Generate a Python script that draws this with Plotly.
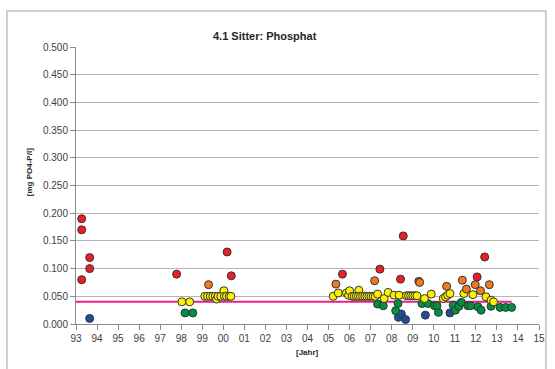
import plotly.graph_objects as go

# measurement points, x in decimal years, y in mg PO4-P/l
red_x = [1993.27, 1993.27, 1993.65, 1993.65, 1993.27, 1997.78, 2000.18, 2000.38,
         2005.66, 2007.44, 2008.42, 2008.55, 2012.06, 2012.42]
red_y = [0.190, 0.170, 0.120, 0.100, 0.080, 0.090, 0.130, 0.087,
         0.090, 0.099, 0.081, 0.159, 0.085, 0.121]

orange_x = [1999.30, 2005.35, 2007.19, 2009.29, 2009.33, 2010.61, 2011.36, 2011.55,
            2011.97, 2012.22, 2012.64]
orange_y = [0.071, 0.072, 0.078, 0.077, 0.075, 0.068, 0.079, 0.063,
            0.071, 0.060, 0.071]

yellow_x = [1998.03, 1998.40,
            1999.12, 1999.25, 1999.38, 1999.50, 1999.62, 1999.68, 1999.75, 1999.88,
            2000.03, 2000.05, 2000.15, 2000.28, 2000.36,
            2005.22, 2005.46, 2005.85, 2005.95, 2006.00, 2006.44,
            2006.12, 2006.22, 2006.32, 2006.42, 2006.52, 2006.62, 2006.72, 2006.82,
            2006.92, 2007.02, 2007.12, 2007.22,
            2007.33, 2007.64, 2007.83, 2008.11, 2008.35,
            2008.70, 2008.80, 2008.90, 2009.00, 2009.10, 2009.20,
            2009.56, 2009.88, 2010.45, 2010.56, 2010.66, 2010.77,
            2011.43, 2011.86, 2012.48, 2012.72, 2012.84]
yellow_y = [0.040, 0.040,
            0.050, 0.050, 0.050, 0.050, 0.050, 0.045, 0.050, 0.050,
            0.060, 0.050, 0.050, 0.050, 0.050,
            0.050, 0.056, 0.056, 0.052, 0.060, 0.061,
            0.050, 0.050, 0.050, 0.050, 0.050, 0.050, 0.050, 0.050,
            0.050, 0.050, 0.050, 0.050,
            0.054, 0.046, 0.057, 0.052, 0.052,
            0.051, 0.051, 0.051, 0.051, 0.051, 0.051,
            0.046, 0.054, 0.046, 0.049, 0.052, 0.055,
            0.055, 0.053, 0.049, 0.043, 0.040]

green_x = [1998.18, 1998.55,
           2007.33, 2007.60, 2008.19, 2008.30, 2009.44, 2009.72, 2010.03, 2010.22,
           2010.15, 2010.92, 2011.03, 2011.20, 2011.31, 2011.62, 2011.75, 2012.10,
           2012.25, 2012.72, 2013.15, 2013.42, 2013.70]
green_y = [0.020, 0.020,
           0.036, 0.033, 0.024, 0.037, 0.037, 0.037, 0.033, 0.021,
           0.033, 0.034, 0.025, 0.032, 0.039, 0.033, 0.033, 0.031,
           0.025, 0.032, 0.030, 0.030, 0.030]

blue_x = [1993.65, 2008.32, 2008.46, 2008.66, 2009.60, 2010.77]
blue_y = [0.010, 0.012, 0.018, 0.008, 0.016, 0.020]

target_x = [1993.0, 2013.7]
target_y = [0.040, 0.040]

years = list(range(1993, 2016))
year_labels = [f"{y % 100:02d}" for y in years]

L, R, T, B = 76, 10, 47, 45
W, H = 555, 369
pw, ph = W - L - R, H - T - B
def px(x): return (x - L) / pw
def py(y): return (H - B - y) / ph

fig = go.Figure()
fig.add_trace(go.Scatter(x=target_x, y=target_y, mode="lines",
                         line=dict(color="#EC1C8C", width=2), showlegend=False))
series = [(blue_x, blue_y, "#1F4E9E"), (green_x, green_y, "#00913F"),
          (yellow_x, yellow_y, "#FFF200"), (orange_x, orange_y, "#F07822"),
          (red_x, red_y, "#EE1C24")]
for xs, ys, col in series:
    fig.add_trace(go.Scatter(x=xs, y=ys, mode="markers", showlegend=False,
                             marker=dict(color=col, size=8, line=dict(color="#333333", width=1))))

fig.update_layout(
    width=W, height=H, margin=dict(l=L, r=R, t=T, b=B),
    paper_bgcolor="white", plot_bgcolor="white",
    font=dict(family="Liberation Sans, Arial", size=10, color="#404040"),
    xaxis=dict(range=[1993, 2015], tickvals=years, ticktext=year_labels, showgrid=False,
               showline=True, linecolor="#8C8C8C", ticks="outside", ticklen=5,
               tickcolor="#8C8C8C", zeroline=False),
    yaxis=dict(range=[0, 0.5], dtick=0.05, tickformat=".3f", showgrid=True,
               gridcolor="#B4B4B4", showline=True, linecolor="#8C8C8C",
               ticks="outside", ticklen=5, tickcolor="#8C8C8C", zeroline=False),
    shapes=[dict(type="rect", xref="paper", yref="paper", x0=px(6), x1=px(552),
                 y0=py(400), y1=py(11), line=dict(color="#BFBFBF", width=1.5), layer="below")],
    annotations=[
        dict(text="<b>4.1 Sitter: Phosphat</b>", xref="paper", yref="paper", x=px(267), y=py(28),
             showarrow=False, font=dict(size=11, color="#262626")),
        dict(text="<b>[mg PO4-P/l]</b>", xref="paper", yref="paper", x=px(22), y=py(172),
             textangle=-90, showarrow=False, font=dict(size=8, color="#262626")),
        dict(text="<b>[Jahr]</b>", xref="paper", yref="paper", x=px(310), y=py(359),
             showarrow=False, font=dict(size=8, color="#262626")),
    ],
)
fig.write_html("out.html", config={"displayModeBar": False},
               post_script="document.body.style.margin='0';")
